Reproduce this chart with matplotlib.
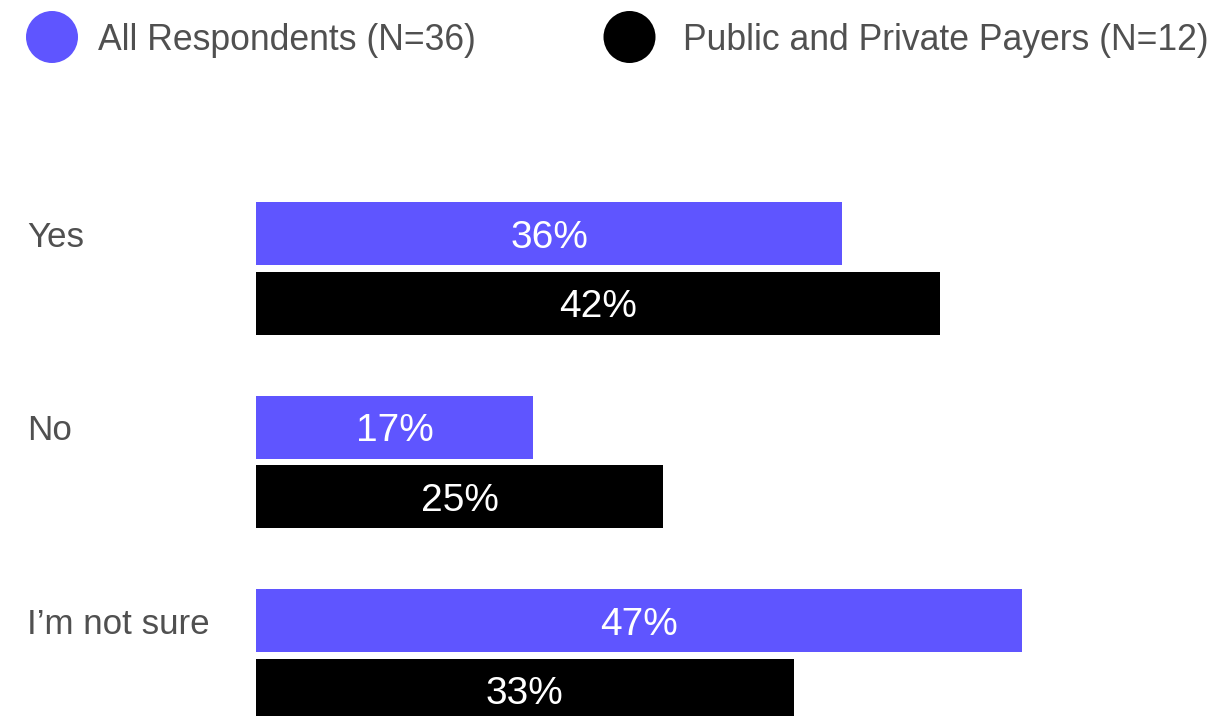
import matplotlib.pyplot as plt
from matplotlib.patches import Circle
from matplotlib.transforms import blended_transform_factory

plt.rcParams['font.family'] = ['Liberation Sans', 'DejaVu Sans']

categories = ['Yes', 'No', 'I\u2019m not sure']
all_respondents = [36, 17, 47]
payers = [42, 25, 33]
series_names = ['All Respondents (N=36)', 'Public and Private Payers (N=12)']

PURPLE = '#5F55FF'
BLACK = '#000000'
GREY = '#505050'

W, H = 1217, 716
fig = plt.figure(figsize=(W / 100, H / 100), dpi=100)

# bar area starts at x=256px and runs off the right edge
left_px = 256
ax = fig.add_axes([left_px / W, 0, 1 - left_px / W, 1])
ax.set_xlim(0, (W - left_px) / 16.29)
ax.set_ylim(2.4935, -1.2067)
ax.axis('off')

bar_h = 0.3256
offset = 0.36
y_all = [i for i in range(len(categories))]
y_pay = [i + offset for i in range(len(categories))]

ax.barh(y_all, all_respondents, height=bar_h, color=PURPLE, left=0)
ax.barh(y_pay, payers, height=bar_h, color=BLACK, left=0)

for ys, vals in [(y_all, all_respondents), (y_pay, payers)]:
    for y, v in zip(ys, vals):
        ax.text(v / 2, y, f'{v}%', color='white', fontsize=28,
                ha='center', va='center_baseline')

# category names sit at the left edge of the figure
trans = blended_transform_factory(fig.transFigure, ax.transData)
for y, name in zip(y_all, categories):
    ax.text(27 / W, y, name, transform=trans, color=GREY, fontsize=25.2,
            ha='left', va='center_baseline')

# legend drawn in pixel coordinates across the top
leg = fig.add_axes([0, 0, 1, 1], zorder=-1)
leg.set_xlim(0, W)
leg.set_ylim(H, 0)
leg.axis('off')
for cx, tx, color, label in [(52, 98, PURPLE, series_names[0]),
                             (629.5, 683, BLACK, series_names[1])]:
    leg.add_patch(Circle((cx, 37), 26, color=color, lw=0))
    leg.text(tx, 50, label, color=GREY, fontsize=25.6, ha='left', va='baseline')

fig.savefig('out.png', dpi=100)
